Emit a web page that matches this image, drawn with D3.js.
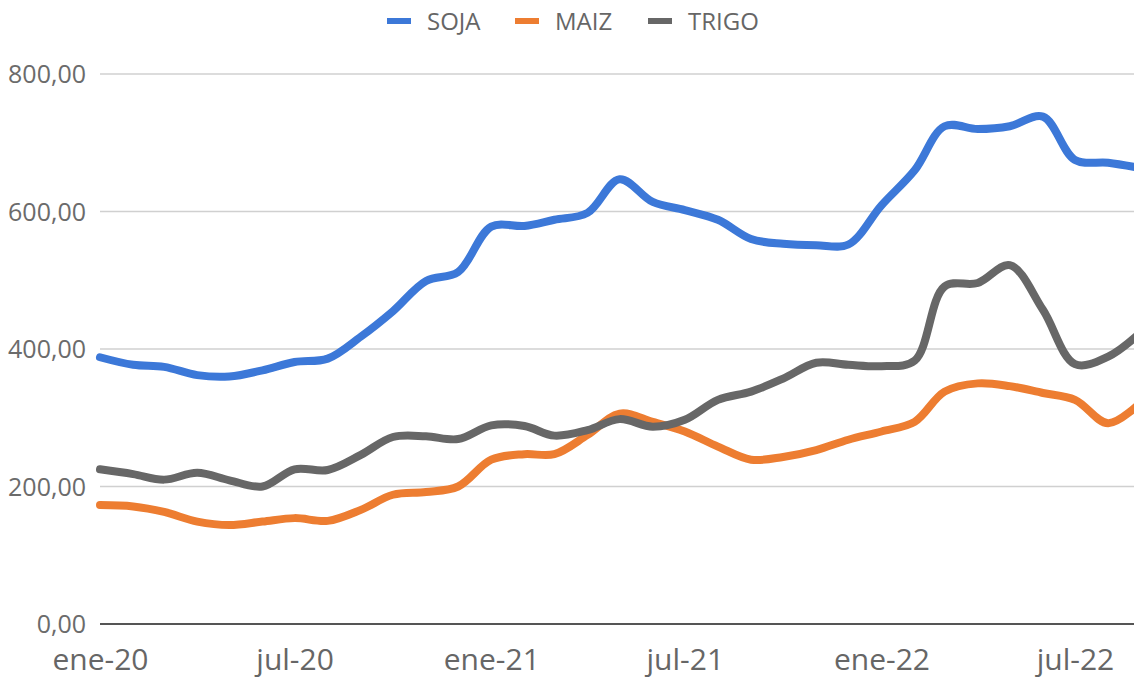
<!DOCTYPE html>
<html><head><meta charset="utf-8">
<script src="https://cdn.jsdelivr.net/npm/d3@7"></script>
<style>html,body{margin:0;padding:0;background:#fff;overflow:hidden}</style>
</head><body><svg id="c" width="1134" height="678"></svg>
<script>
const months = ["2020-01","2020-02","2020-03","2020-04","2020-05","2020-06","2020-07","2020-08","2020-09","2020-10","2020-11","2020-12",
"2021-01","2021-02","2021-03","2021-04","2021-05","2021-06","2021-07","2021-08","2021-09","2021-10","2021-11","2021-12",
"2022-01","2022-02","2022-03","2022-04","2022-05","2022-06","2022-07","2022-08","2022-09"];
const soja = [388,377,374,362,360,369,381,386,418,455,499,512,
578,579,588,598,647,614,602,588,560,553,551,552,
609,660,724,720,724,738,675,671,663];
const maiz = [173,171,163,149,144,149,154,150,166,188,192,200,
239,247,247,275,306,294,280,258,239,243,253,268,
280,294,338,350,346,336,326,292,323];
const trigo = [225,218,210,220,209,200,225,224,246,272,273,269,
289,288,274,282,298,287,297,326,338,357,380,377,
375,383,491,496,522,457,378,389,425];
const yTicks = [0,200,400,600,800];
const xTickDates = ["2020-01","2020-07","2021-01","2021-07","2022-01","2022-07"];
const seriesNames = ["SOJA","MAIZ","TRIGO"];
const colors = ["#3c78d8","#ed7d31","#676767"];

const parse = d3.timeParse("%Y-%m");
const fmtMonth = d => ["ene","feb","mar","abr","may","jun","jul","ago","sep","oct","nov","dic"][d.getMonth()] + "-" + String(d.getFullYear()).slice(2);
const svg = d3.select("#c");
const font = "'Open Sans', 'Liberation Sans', sans-serif";

const x = d3.scaleTime().domain([parse("2020-01"), parse("2022-07")]).range([100, 1075]);
const y = d3.scaleLinear().domain([0, 800]).range([624, 74]);

// gridlines
svg.append("g").selectAll("line").data(yTicks.filter(v=>v>0)).join("line")
  .attr("x1",100).attr("x2",1134).attr("y1",d=>y(d)).attr("y2",d=>y(d))
  .attr("stroke","#d0d0d0").attr("stroke-width",1.5);

// y labels
const yAxis = d3.axisLeft(y).tickValues(yTicks).tickSize(0).tickPadding(0)
  .tickFormat(d => d3.format(".2f")(d).replace(".", ","));
const ya = svg.append("g").attr("transform","translate(86,0)").call(yAxis);
ya.select(".domain").remove();
ya.selectAll("text").attr("font-family",font).attr("font-size",25).attr("fill","#6b6b6b").attr("dy","0.35em");

// x axis
const xAxis = d3.axisBottom(x).tickValues(xTickDates.map(parse)).tickSize(0).tickPadding(0).tickFormat(fmtMonth);
const xa = svg.append("g").attr("transform","translate(0,624)").call(xAxis);
xa.select(".domain").remove();
xa.selectAll("text").attr("font-family",font).attr("font-size",30).attr("fill","#666").attr("dy","0").attr("y",46);
svg.append("line").attr("x1",100).attr("x2",1134).attr("y1",624).attr("y2",624).attr("stroke","#555").attr("stroke-width",2);

// lines
const data = [soja, maiz, trigo];
const line = d3.line().x((d,i)=>x(parse(months[i]))).y(d=>y(d)).curve(d3.curveCatmullRom.alpha(0.5));
data.forEach((s,k)=>{
  svg.append("path").datum(s).attr("d",line).attr("fill","none")
    .attr("stroke",colors[k]).attr("stroke-width",8).attr("stroke-linejoin","round").attr("stroke-linecap","round");
});

// legend
const legX = [387, 515, 648];
const lg = svg.append("g");
seriesNames.forEach((n,k)=>{
  lg.append("rect").attr("x",legX[k]).attr("y",18).attr("width",24).attr("height",6).attr("fill",colors[k]);
  lg.append("text").attr("x",legX[k]+40).attr("y",30).text(n)
    .attr("font-family",font).attr("font-size",24).attr("fill","#666");
});
</script>
</body></html>
